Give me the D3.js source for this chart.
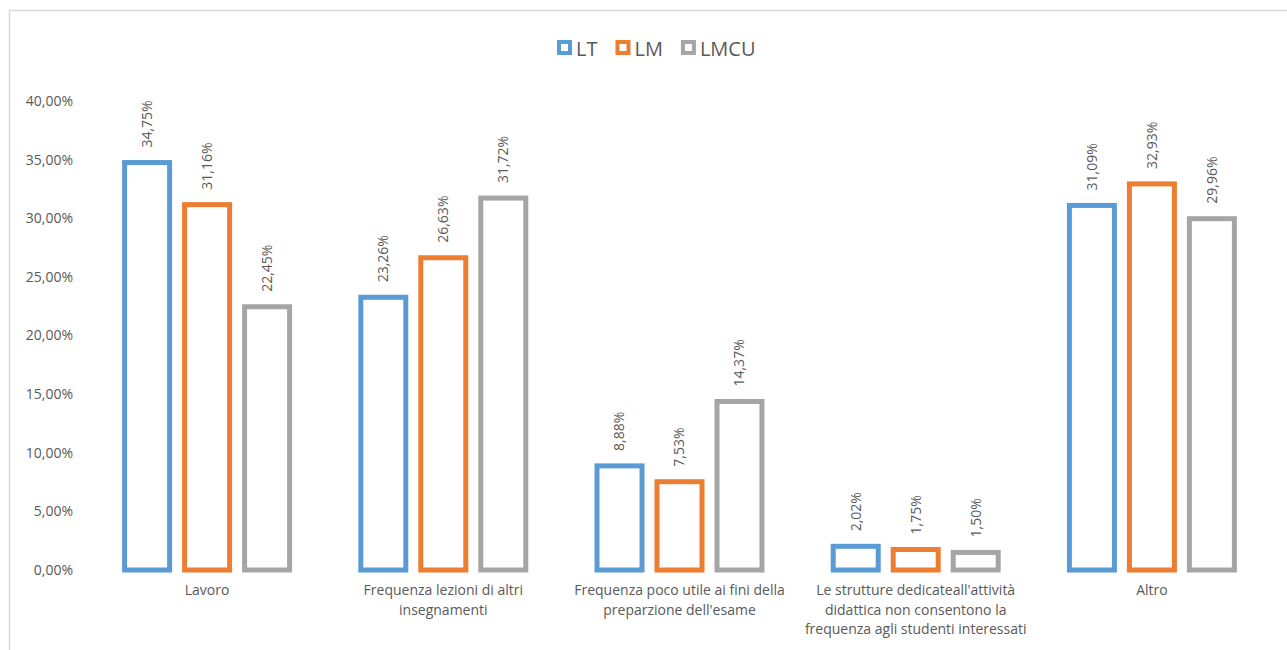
<!DOCTYPE html>
<html><head><meta charset="utf-8">
<script src="https://cdn.jsdelivr.net/npm/d3@7"></script>
<style>body{margin:0;background:#fff}svg{display:block}text{font-family:"Open Sans","Liberation Sans",Arial,sans-serif}</style>
</head><body>
<script>
const categories = [
  ["Lavoro"],
  ["Frequenza lezioni di altri","insegnamenti"],
  ["Frequenza poco utile ai fini della","preparzione dell'esame"],
  ["Le strutture dedicateall'attività","didattica non consentono la","frequenza agli studenti interessati"],
  ["Altro"]
];
const series = ["LT","LM","LMCU"];
const LT   = [0.3475,0.2326,0.0888,0.0202,0.3109];
const LM   = [0.3116,0.2663,0.0753,0.0175,0.3293];
const LMCU = [0.2245,0.3172,0.1437,0.0150,0.2996];
const values = {LT, LM, LMCU};
const colors = ["#5B9BD5","#ED7D31","#A5A5A5"];
const yTicks = [0,0.05,0.10,0.15,0.20,0.25,0.30,0.35,0.40];

const W=1287,H=650;
const FONT="'Open Sans','Liberation Sans',Arial,sans-serif";
const svg=d3.select("body").append("svg").attr("width",W).attr("height",H);
svg.append("path").attr("d",`M9.5,${H+5}V10.5H${W+5}`).attr("fill","none").attr("stroke","#D9D9D9").attr("stroke-width",1.5);

const fmt = v => d3.format(".2f")(v*100).replace(".",",")+"%";
const catIdx = d3.range(categories.length);
const x0=d3.scaleBand().domain(catIdx).range([89,1270]).paddingInner(0);
const x1=d3.scaleBand().domain(series).range([0,x0.bandwidth()]).paddingInner(1/6).paddingOuter(0.552);
const y=d3.scaleLinear().domain([0,0.4]).range([570,101]);
const color=d3.scaleOrdinal().domain(series).range(colors);
const sw=5;

// y axis labels
const yAxis=d3.axisLeft(y).tickValues(yTicks).tickFormat(fmt).tickSize(0).tickPadding(0);
const ya=svg.append("g").attr("transform","translate(73,0)").call(yAxis);
ya.select(".domain").remove();
ya.selectAll("text").attr("fill","#595959").style("font-size","14px").style("font-family",FONT);

// bars
const g=svg.append("g");
catIdx.forEach(i=>{
  series.forEach(s=>{
    const v=values[s][i];
    const xb=x0(i)+x1(s);
    g.append("rect")
      .attr("x",xb+sw/2).attr("y",y(v))
      .attr("width",x1.bandwidth()-sw).attr("height",y(0)-y(v))
      .attr("fill","none").attr("stroke",color(s)).attr("stroke-width",sw);
    const cx=xb+x1.bandwidth()/2;
    g.append("text")
      .attr("transform",`translate(${cx},${y(v)-15}) rotate(-90)`)
      .attr("dy","0.35em").attr("text-anchor","start")
      .attr("fill","#595959").style("font-size","14px")
      .text(fmt(v));
  });
});

// category labels
const xa=svg.append("g");
catIdx.forEach(i=>{
  const t=xa.append("text").attr("x",x0(i)+x0.bandwidth()/2).attr("y",595)
    .attr("text-anchor","middle").attr("fill","#595959").style("font-size","14px");
  categories[i].forEach((line,j)=>{
    t.append("tspan").attr("x",x0(i)+x0.bandwidth()/2).attr("dy",j?19.5:0).text(line);
  });
});

// legend
const leg=svg.append("g");
let lx=557;
series.forEach((s,k)=>{
  leg.append("rect").attr("x",lx+2).attr("y",40+2).attr("width",11).attr("height",11)
    .attr("fill","#fff").attr("stroke",color(s)).attr("stroke-width",4);
  const t=leg.append("text").attr("x",lx+19).attr("y",55.5).attr("fill","#595959")
    .style("font-size","20px").text(s);
  lx += 19 + t.node().getComputedTextLength() + 18;
});
</script>
</body></html>
